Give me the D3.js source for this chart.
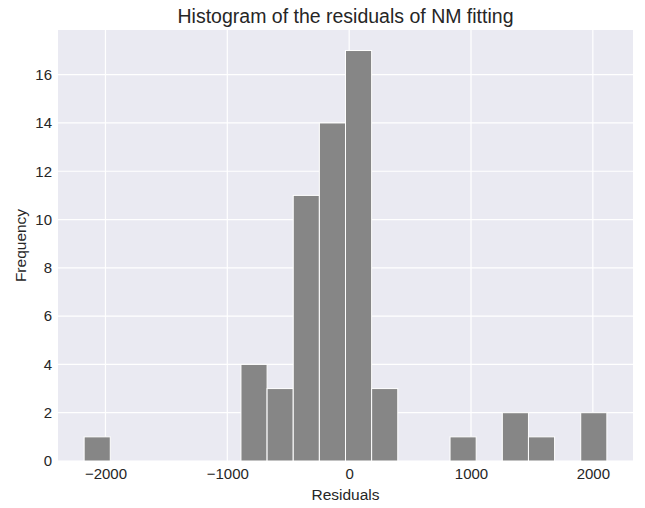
<!DOCTYPE html>
<html>
<head>
<meta charset="utf-8">
<script src="https://cdn.jsdelivr.net/npm/d3@7"></script>
<style>
  body { margin: 0; background: #fff; }
  svg { display: block; font-family: "Liberation Sans", Arial, sans-serif; }
</style>
</head>
<body>
<svg id="chart" width="645" height="508"></svg>
<script>
// histogram bins: 20 equal bins from binStart
const binStart = -2175;
const binWidth = 214.5;
const counts = [1, 0, 0, 0, 0, 0, 4, 3, 11, 14, 17, 3, 0, 0, 1, 0, 2, 1, 0, 2];
const xTicks = [-2000, -1000, 0, 1000, 2000];
const yTicks = [0, 2, 4, 6, 8, 10, 12, 14, 16];

const W = 645, H = 508;
const margin = { top: 30, right: 12, bottom: 47, left: 58 };
const svg = d3.select("#chart");

const bins = counts.map((c, i) => ({
  x0: binStart + i * binWidth,
  x1: binStart + (i + 1) * binWidth,
  count: c
}));

const xMin = bins[0].x0, xMax = bins[bins.length - 1].x1;
const pad = (xMax - xMin) * 0.05;
const x = d3.scaleLinear()
  .domain([xMin - pad, xMax + pad])
  .range([margin.left, W - margin.right]);
const y = d3.scaleLinear()
  .domain([0, d3.max(counts) * 1.05])
  .range([H - margin.bottom, margin.top]);

// background
svg.append("rect")
  .attr("x", margin.left)
  .attr("y", margin.top)
  .attr("width", W - margin.left - margin.right)
  .attr("height", H - margin.top - margin.bottom)
  .attr("fill", "#eaeaf2");

// grid
const grid = svg.append("g").attr("stroke", "#fff").attr("stroke-width", 1.2);
grid.selectAll("line.v")
  .data(xTicks)
  .join("line")
  .attr("x1", d => x(d)).attr("x2", d => x(d))
  .attr("y1", margin.top).attr("y2", H - margin.bottom);
grid.selectAll("line.h")
  .data(yTicks)
  .join("line")
  .attr("x1", margin.left).attr("x2", W - margin.right)
  .attr("y1", d => y(d)).attr("y2", d => y(d));

// bars
svg.append("g")
  .selectAll("rect")
  .data(bins.filter(d => d.count > 0))
  .join("rect")
  .attr("x", d => x(d.x0))
  .attr("width", d => x(d.x1) - x(d.x0))
  .attr("y", d => y(d.count))
  .attr("height", d => y(0) - y(d.count))
  .attr("fill", "#868686")
  .attr("stroke", "#fff")
  .attr("stroke-width", 1);

// axes
const xAxis = svg.append("g")
  .attr("transform", `translate(0,${H - margin.bottom})`)
  .call(d3.axisBottom(x).tickValues(xTicks).tickSize(0).tickPadding(7)
    .tickFormat(d => d < 0 ? "\u2212" + Math.abs(d) : d));
const yAxis = svg.append("g")
  .attr("transform", `translate(${margin.left},0)`)
  .call(d3.axisLeft(y).tickValues(yTicks).tickSize(0).tickPadding(6));

[xAxis, yAxis].forEach(a => {
  a.select(".domain").remove();
  a.selectAll("text")
    .attr("font-size", 15)
    .attr("font-family", "Liberation Sans, Arial, sans-serif")
    .attr("fill", "#262626");
});

// labels
svg.append("text")
  .attr("x", (margin.left + W - margin.right) / 2)
  .attr("y", 22.5)
  .attr("text-anchor", "middle")
  .attr("font-size", 19.5)
  .attr("fill", "#262626")
  .text("Histogram of the residuals of NM fitting");

svg.append("text")
  .attr("x", (margin.left + W - margin.right) / 2)
  .attr("y", 500)
  .attr("text-anchor", "middle")
  .attr("font-size", 15.5)
  .attr("fill", "#262626")
  .text("Residuals");

svg.append("text")
  .attr("transform", `translate(26,${(margin.top + H - margin.bottom) / 2}) rotate(-90)`)
  .attr("text-anchor", "middle")
  .attr("font-size", 15.5)
  .attr("fill", "#262626")
  .text("Frequency");
</script>
</body>
</html>
